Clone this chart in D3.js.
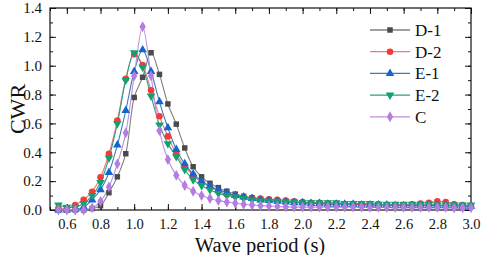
<!DOCTYPE html>
<html><head><meta charset="utf-8">
<script src="https://cdn.jsdelivr.net/npm/d3@7"></script>
<style>body{margin:0;background:#fff}svg{display:block}</style>
</head><body><svg id="c" width="484" height="255"></svg>
<script>
const periods = [0.55,0.60,0.65,0.70,0.75,0.80,0.85,0.90,0.95,1.00,1.05,1.10,1.15,1.20,1.25,1.30,1.35,1.40,1.45,1.50,1.55,1.60,1.65,1.70,1.75,1.80,1.85,1.90,1.95,2.00,2.05,2.10,2.15,2.20,2.25,2.30,2.35,2.40,2.45,2.50,2.55,2.60,2.65,2.70,2.75,2.80,2.85,2.90,2.95,3.00];
const D1 = [0.00,0.00,0.00,0.00,0.01,0.03,0.12,0.23,0.39,0.78,0.92,1.09,0.94,0.735,0.595,0.43,0.30,0.23,0.185,0.155,0.13,0.11,0.095,0.085,0.075,0.07,0.065,0.06,0.055,0.05,0.05,0.045,0.045,0.04,0.04,0.04,0.04,0.035,0.035,0.035,0.035,0.03,0.03,0.03,0.03,0.03,0.03,0.03,0.025,0.025];
const D2 = [0.01,0.01,0.035,0.07,0.127,0.227,0.39,0.62,0.91,1.08,1.005,0.83,0.65,0.51,0.39,0.30,0.24,0.19,0.16,0.13,0.11,0.10,0.09,0.085,0.08,0.075,0.07,0.065,0.06,0.055,0.05,0.05,0.045,0.045,0.04,0.04,0.04,0.04,0.04,0.035,0.035,0.035,0.04,0.045,0.05,0.06,0.055,0.04,0.035,0.03];
const E1 = [0.00,0.00,0.005,0.02,0.07,0.14,0.26,0.45,0.69,0.96,1.11,0.96,0.75,0.57,0.42,0.32,0.25,0.20,0.165,0.14,0.12,0.10,0.09,0.08,0.07,0.065,0.06,0.055,0.05,0.05,0.045,0.045,0.04,0.04,0.04,0.04,0.035,0.035,0.035,0.035,0.03,0.03,0.03,0.03,0.03,0.03,0.03,0.03,0.025,0.025];
const E2 = [0.035,0.02,0.02,0.045,0.10,0.19,0.36,0.60,0.90,1.09,0.99,0.79,0.59,0.46,0.37,0.28,0.21,0.17,0.14,0.115,0.10,0.09,0.08,0.07,0.065,0.06,0.06,0.055,0.055,0.05,0.05,0.05,0.05,0.05,0.045,0.045,0.045,0.045,0.04,0.04,0.04,0.04,0.04,0.04,0.04,0.035,0.035,0.035,0.035,0.035];
const C  = [0.00,0.00,0.00,0.00,0.015,0.06,0.16,0.32,0.535,0.93,1.27,0.93,0.55,0.35,0.24,0.17,0.13,0.10,0.08,0.065,0.055,0.047,0.04,0.035,0.03,0.027,0.025,0.022,0.02,0.02,0.02,0.02,0.02,0.02,0.02,0.02,0.02,0.018,0.018,0.018,0.018,0.018,0.018,0.018,0.018,0.018,0.018,0.015,0.015,0.015];
const seriesNames = ["D-1","D-2","E-1","E-2","C"];
const xTicks = [0.6,0.8,1.0,1.2,1.4,1.6,1.8,2.0,2.2,2.4,2.6,2.8,3.0];
const yTicks = [0.0,0.2,0.4,0.6,0.8,1.0,1.2,1.4];

const FONT = "'Liberation Serif', 'Times New Roman', 'DejaVu Serif', serif";
const series = [
  {name:"D-1", vals:D1, mc:"#4a4a4a", lc:"#808080", sym:d3.symbolSquare, rot:0, sz:30},
  {name:"D-2", vals:D2, mc:"#f23b3b", lc:"#f07a7a", sym:d3.symbolCircle, rot:0, sz:34},
  {name:"E-1", vals:E1, mc:"#1565d0", lc:"#3a7fb8", sym:d3.symbolTriangle, rot:0, sz:32},
  {name:"E-2", vals:E2, mc:"#12a070", lc:"#2aa08a", sym:d3.symbolTriangle, rot:180, sz:32},
  {name:"C",   vals:C,  mc:"#b47ee0", lc:"#c08ee0", sym:d3.symbolDiamond, rot:0, sz:34}
];

const L=50, R=471, T=8, B=210;
const svg = d3.select("#c");
const x = d3.scaleLinear().domain([0.5,3.0]).range([L,R]);
const y = d3.scaleLinear().domain([0,1.4]).range([B,T]);

const xMinor = d3.range(0.5,3.0001,0.1);
const yMinor = d3.range(0,1.4001,0.1);

function styleTicks(g){ g.select(".domain").remove(); g.selectAll("line").attr("stroke","#111"); }

const gx = svg.append("g").attr("transform",`translate(0,${B})`)
  .call(d3.axisBottom(x).tickValues(xTicks).tickSizeInner(-6).tickSizeOuter(0).tickPadding(9).tickFormat(d3.format(".1f")));
gx.attr("font-family",FONT);
gx.selectAll("text").attr("font-size",14.5).attr("fill","#111").style("font-family",FONT);
styleTicks(gx);
styleTicks(svg.append("g").attr("transform",`translate(0,${B})`)
  .call(d3.axisBottom(x).tickValues(xMinor).tickSizeInner(-3).tickSizeOuter(0).tickFormat("")));
styleTicks(svg.append("g").attr("transform",`translate(0,${T})`)
  .call(d3.axisTop(x).tickValues(xTicks).tickSizeInner(-6).tickSizeOuter(0).tickFormat("")));
styleTicks(svg.append("g").attr("transform",`translate(0,${T})`)
  .call(d3.axisTop(x).tickValues(xMinor).tickSizeInner(-3).tickSizeOuter(0).tickFormat("")));

const gy = svg.append("g").attr("transform",`translate(${L},0)`)
  .call(d3.axisLeft(y).tickValues(yTicks).tickSizeInner(-6).tickSizeOuter(0).tickPadding(8).tickFormat(d3.format(".1f")));
gy.attr("font-family",FONT);
gy.selectAll("text").attr("font-size",15).attr("fill","#111").style("font-family",FONT);
styleTicks(gy);
styleTicks(svg.append("g").attr("transform",`translate(${L},0)`)
  .call(d3.axisLeft(y).tickValues(yMinor).tickSizeInner(-3).tickSizeOuter(0).tickFormat("")));
styleTicks(svg.append("g").attr("transform",`translate(${R},0)`)
  .call(d3.axisRight(y).tickValues(yTicks).tickSizeInner(-6).tickSizeOuter(0).tickFormat("")));
styleTicks(svg.append("g").attr("transform",`translate(${R},0)`)
  .call(d3.axisRight(y).tickValues(yMinor).tickSizeInner(-3).tickSizeOuter(0).tickFormat("")));

svg.append("rect").attr("x",L).attr("y",T).attr("width",R-L).attr("height",B-T)
  .attr("fill","none").attr("stroke","#111").attr("stroke-width",1.2);

const line = d3.line().x((d,i)=>x(periods[i])).y(d=>y(d)).curve(d3.curveCatmullRom);
const plot = svg.append("g");
series.forEach(s=>{
  plot.append("path").attr("d",line(s.vals)).attr("fill","none").attr("stroke",s.lc).attr("stroke-width",1.1);
});
series.forEach(s=>{
  const sym = d3.symbol().type(s.sym).size(s.sz);
  plot.append("g").selectAll("path").data(s.vals).join("path")
    .attr("d",sym)
    .attr("transform",(d,i)=>`translate(${x(periods[i])},${y(d)}) rotate(${s.rot})`)
    .attr("fill",s.mc);
});

const lg = svg.append("g");
series.forEach((s,i)=>{
  const yy = 30 + i*21.7;
  lg.append("line").attr("x1",370).attr("x2",410).attr("y1",yy).attr("y2",yy).attr("stroke",s.lc).attr("stroke-width",1.3);
  lg.append("path").attr("d",d3.symbol().type(s.sym).size(s.sz)()).attr("transform",`translate(390,${yy}) rotate(${s.rot})`).attr("fill",s.mc);
  lg.append("text").attr("x",415).attr("y",yy).attr("dy","0.35em").attr("font-size",17).attr("fill","#111").style("font-family",FONT).text(seriesNames[i]);
});

svg.append("text").attr("x",260).attr("y",252).attr("text-anchor","middle").attr("font-size",20.5).attr("fill","#111").style("font-family",FONT).text("Wave period (s)");
svg.append("text").attr("transform",`translate(25,${(T+B)/2}) rotate(-90)`).attr("text-anchor","middle").attr("font-size",22).attr("fill","#111").style("font-family",FONT).text("CWR");
</script></body></html>
